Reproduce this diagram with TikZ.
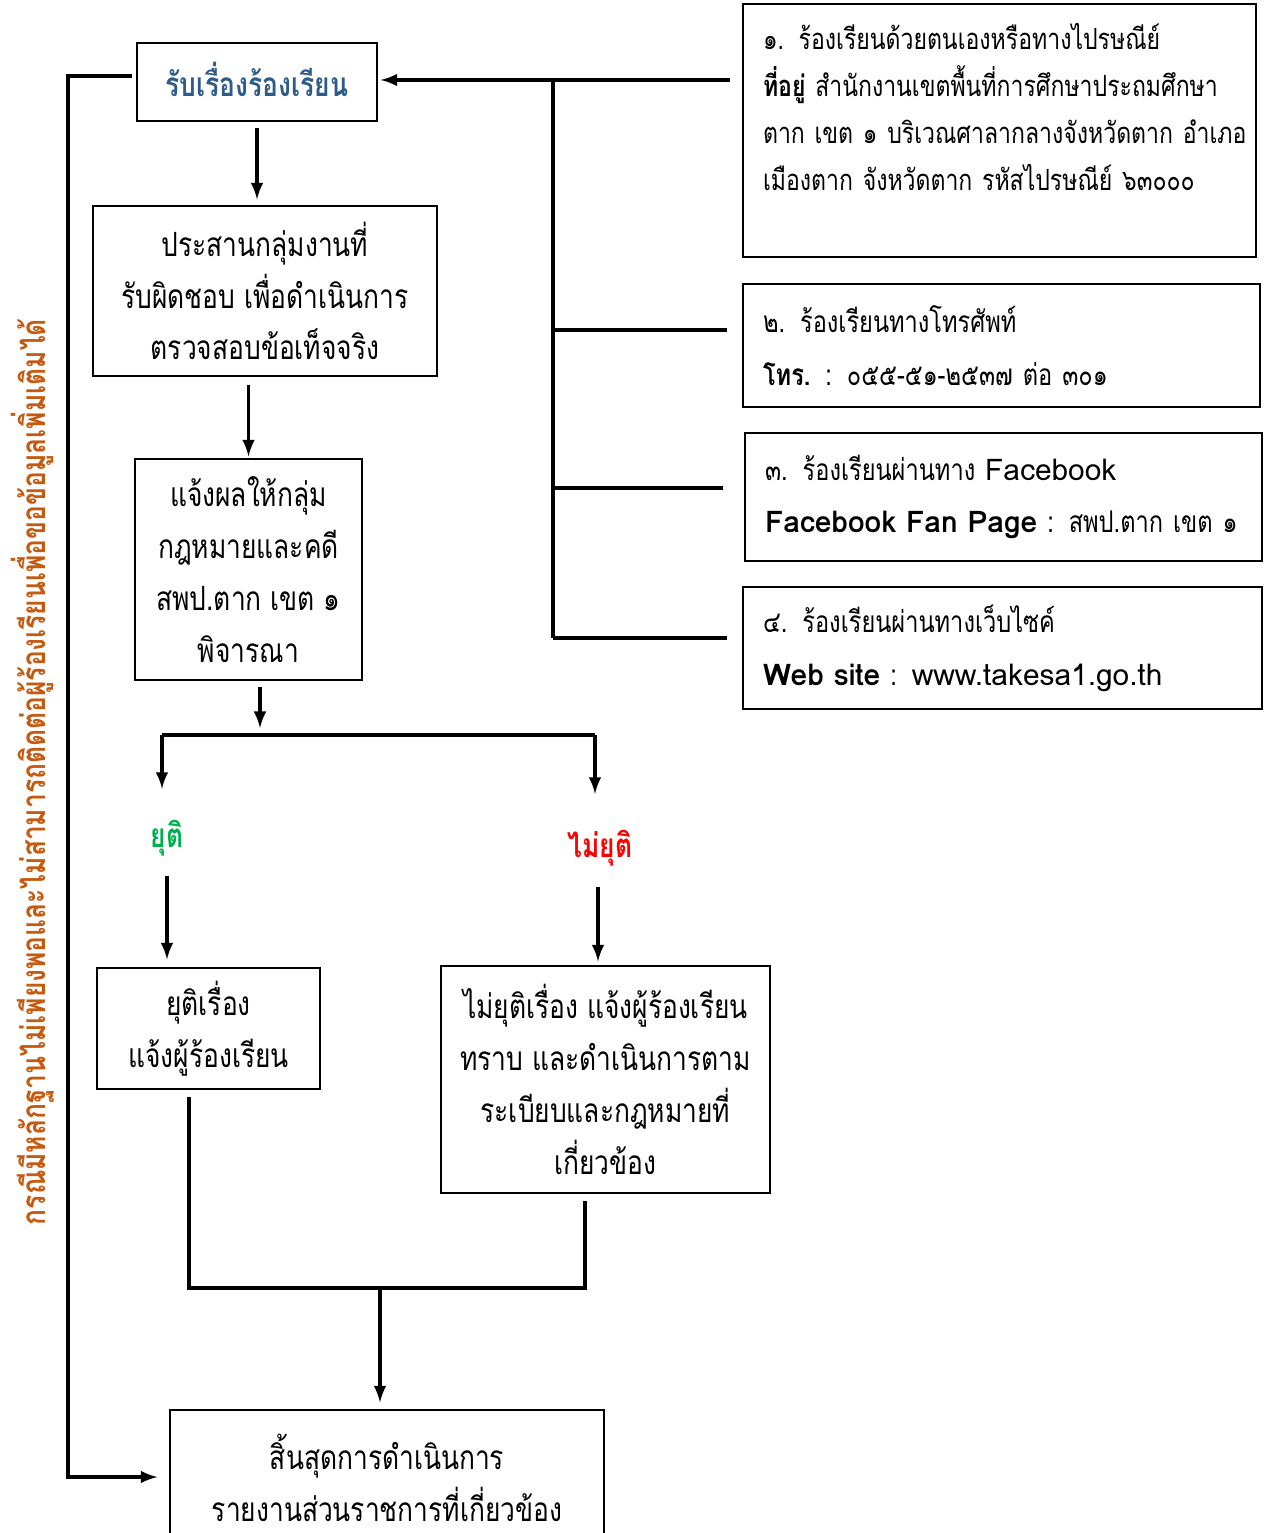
\documentclass[tikz,border=0pt]{standalone}
\usepackage{fontspec}
\setmainfont[Script=Thai, FakeStretch=0.79]{Loma}
\newfontfamily\latinfont{Loma}
\usetikzlibrary{calc}
\definecolor{titleblue}{HTML}{2E5C8A}
\definecolor{okgreen}{HTML}{00B050}
\definecolor{nored}{HTML}{FF0000}
\definecolor{sideorange}{HTML}{C55A11}
\tikzset{
    stepbox/.style={draw, line width=0.8pt, align=center, inner sep=0pt,
        font=\fontsize{19}{29.5}\selectfont},
    chanbox/.style={draw, line width=0.8pt, align=left, inner xsep=0.4cm, inner ysep=0pt,
        font=\fontsize{17}{30}\selectfont},
    verdict/.style={font=\bfseries\fontsize{19}{22}\selectfont},
    flow/.style={line width=2.2pt,-latex},
    link/.style={line width=2.2pt}
}
\begin{document}
\begin{tikzpicture}[x=0.02cm,y=-0.02cm]
\useasboundingbox (0,0) rectangle (1264,1533);

\node[stepbox, minimum width=4.8cm, minimum height=1.56cm, text=titleblue,
    font=\bfseries\fontsize{19}{29.5}\selectfont] (rcv) at (257,82) {\raisebox{3pt}{รับเรื่องร้องเรียน}};
\node[stepbox, minimum width=6.88cm, minimum height=3.4cm] (chk) at (265,291)
    {ประสานกลุ่มงานที่\\รับผิดชอบ เพื่อดำเนินการ\\ตรวจสอบข้อเท็จจริง};
\node[stepbox, minimum width=4.54cm, minimum height=4.42cm] (note) at (248.5,569.5)
    {แจ้งผลให้กลุ่ม\\กฎหมายและคดี\\สพป.ตาก เขต ๑\\พิจารณา};
\node[verdict, text=okgreen] (ok) at (167,838) {ยุติ};
\node[verdict, text=nored] (notok) at (600,848) {ไม่ยุติ};
\node[stepbox, minimum width=4.46cm, minimum height=2.42cm] (done) at (208.5,1028.5)
    {ยุติเรื่อง\\แจ้งผู้ร้องเรียน};
\node[stepbox, minimum width=6.58cm, minimum height=4.54cm] (pend) at (605.5,1079.5)
    {ไม่ยุติเรื่อง แจ้งผู้ร้องเรียน\\ทราบ และดำเนินการตาม\\ระเบียบและกฎหมายที่\\เกี่ยวข้อง};
\node[stepbox, minimum width=8.68cm, minimum height=2.7cm] (end) at (387,1477.5)
    {สิ้นสุดการดำเนินการ\\รายงานส่วนราชการที่เกี่ยวข้อง};

\node[chanbox, text width=9.46cm, minimum height=5.06cm, font=\fontsize{16.6}{26.7}\selectfont] (ch1) at (999.5,130.5)
    {\mbox{๑. ร้องเรียนด้วยตนเองหรือทางไปรษณีย์}\\\mbox{\textbf{ที่อยู่} สำนักงานเขตพื้นที่การศึกษาประถมศึกษา}\\\mbox{ตาก เขต ๑ บริเวณศาลากลางจังหวัดตาก อำเภอ}\\\mbox{เมืองตาก จังหวัดตาก รหัสไปรษณีย์ ๖๓๐๐๐}\\\mbox{}};
\node[chanbox, text width=9.54cm, minimum height=2.46cm] (ch2) at (1001.5,345.5)
    {๒. ร้องเรียนทางโทรศัพท์\\\textbf{โทร.} : ๐๕๕-๕๑-๒๕๓๗ ต่อ ๓๐๑};
\node[chanbox, text width=9.54cm, minimum height=2.56cm] (ch3) at (1003.5,497)
    {๓. ร้องเรียนผ่านทาง {\latinfont Facebook}\\\textbf{\latinfont Facebook Fan Page} : สพป.ตาก เขต ๑};
\node[chanbox, text width=9.58cm, minimum height=2.44cm] (ch4) at (1002.5,648)
    {๔. ร้องเรียนผ่านทางเว็บไซค์\\\textbf{\latinfont Web site} : {\latinfont www.takesa1.go.th}};

\node[rotate=90, text=sideorange, font=\bfseries\fontsize{19}{22}\selectfont] (side) at (33,772)
    {กรณีมีหลักฐานไม่เพียงพอและไม่สามารถติดต่อผู้ร้องเรียนเพื่อขอข้อมูลเพิ่มเติมได้};

\coordinate (busT) at (553,80);
\coordinate (busB) at (553,638);
\coordinate (in1) at (730,80);
\coordinate (fork) at (260,735);
\coordinate (forkL) at (162,735);
\coordinate (forkR) at (595,735);
\coordinate (mergeL) at (189,1288);
\coordinate (mergeR) at (585,1288);
\coordinate (merge) at (380,1288);
\coordinate (loopT) at (68,76);
\coordinate (loopB) at (68,1477);

\draw[flow, shorten >=0.06cm] (in1) -- (rcv.east |- in1);
\draw[link] (busT) -- (busB);
\foreach \x/\y in {727/330, 723/488, 727/638}
{
    \draw[link] (\x,\y) -- (busT |- 0,\y);
};

\draw[flow, shorten <=0.12cm, shorten >=0.12cm] (rcv.south) -- (rcv.south |- chk.north);
\draw[flow, shorten <=0.16cm, shorten >=0.04cm] (note.north |- chk.south) -- (note.north);
\draw[flow, shorten <=0.12cm, shorten >=0.14cm] (note.south -| fork) -- (fork);
\draw[link] (forkL) -- (forkR);
\draw[flow, shorten >=0.5cm] (forkL) -- (forkL |- ok.north);
\draw[flow, shorten >=0.6cm] (forkR) -- (forkR |- notok.north);
\draw[flow, shorten <=0.28cm, shorten >=0.16cm] (ok.south) -- (ok.south |- done.north);
\draw[flow, shorten <=0.3cm, shorten >=0.08cm] (notok.south -| 598,0) -- (pend.north -| 598,0);
\draw[link, shorten <=0.14cm, shorten >=0.14cm] (done.south -| mergeL) -- (mergeL) -- (mergeR) -- (pend.south -| mergeR);
\draw[flow, shorten >=0.14cm] (merge) -- (end.north -| merge);
\draw[flow, shorten <=0.08cm, shorten >=0.24cm] (rcv.west |- loopT) -- (loopT) -- (loopB) -- (end.west |- loopB);

\end{tikzpicture}
\end{document}
